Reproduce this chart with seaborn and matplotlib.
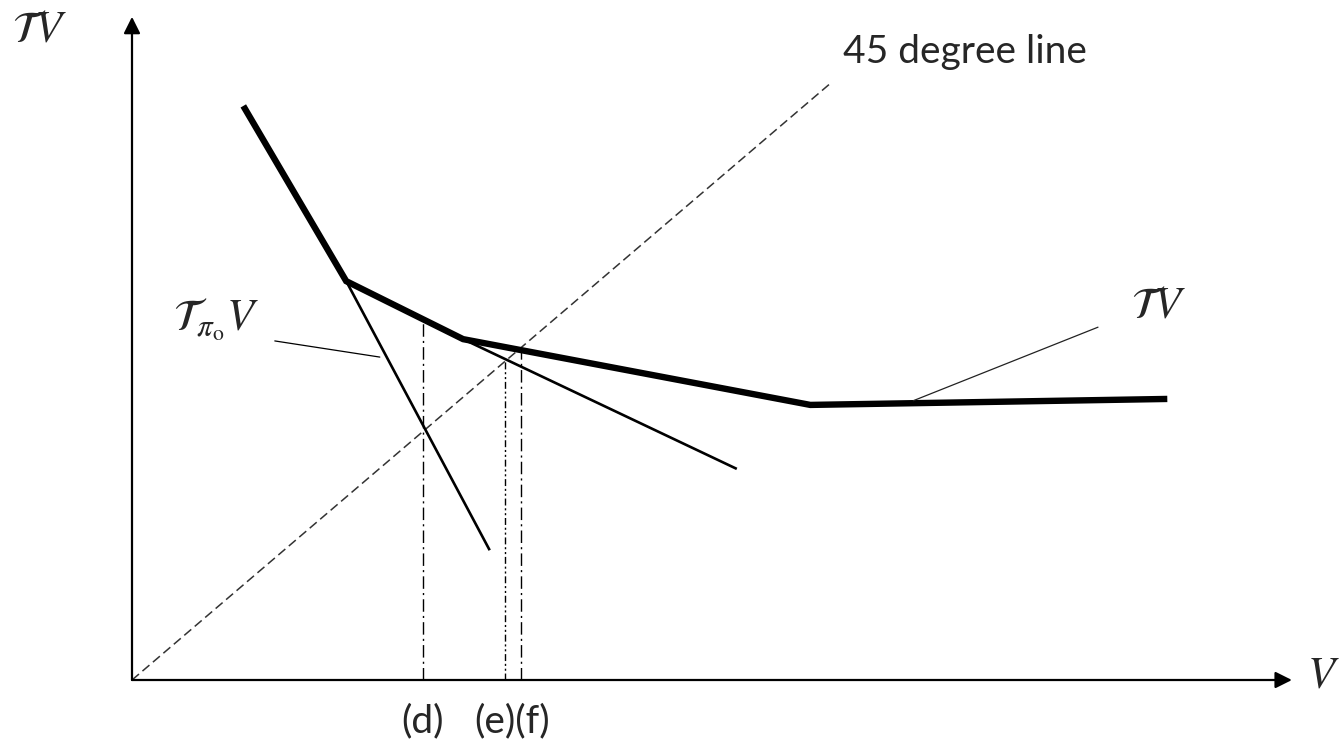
import matplotlib
matplotlib.use("Agg")
import matplotlib.pyplot as plt
import seaborn as sns
import numpy as np

# ---- data (arbitrary units; 45-degree line is y = x) ----
tv_x = [1.59, 3.06, 4.73, 9.69, 14.79]
tv_y = [9.60, 6.67, 5.70, 4.60, 4.70]

tpi0_x = [3.06, 5.11]
tpi0_y = [6.67, 2.17]

tpi1_x = [4.73, 8.64]
tpi1_y = [5.70, 3.53]

diag_x = [0.0, 10.0]
diag_y = [0.0, 10.0]

# vertical markers (d), (e), (f): x position and top height
vert_x = [4.16, 5.33, 5.56]
vert_top = [6.02, 5.35, 5.52]
vert_labels = ["(d)", "(e)(f)"]

# leader lines for labels
lead_pi0_x = [2.04, 3.54]
lead_pi0_y = [5.67, 5.40]
lead_tv_x = [13.80, 11.16]
lead_tv_y = [5.90, 4.67]

x_axis_end = 16.57
y_axis_end = 11.09

sns.set_style("white")
plt.rcParams["font.family"] = ["Lato", "DejaVu Sans"]
plt.rcParams["mathtext.fontset"] = "stix"

W, H = 1343, 745
fig = plt.figure(figsize=(W / 100, H / 100), dpi=100)
ax = fig.add_axes([0, 0, 1, 1])
ax.set_xlim(-132 / 70, (W - 132) / 70)
ax.set_ylim((680 - H) / 59.8, 680 / 59.8)
ax.axis("off")

# axes with arrows
ax.annotate("", xy=(x_axis_end, 0), xytext=(0, 0),
            arrowprops=dict(arrowstyle="-|>", mutation_scale=25, lw=1.6,
                            color="black", shrinkA=0, shrinkB=0))
ax.annotate("", xy=(0, y_axis_end), xytext=(0, 0),
            arrowprops=dict(arrowstyle="-|>", mutation_scale=25, lw=1.6,
                            color="black", shrinkA=0, shrinkB=0))

# 45-degree dashed line
sns.lineplot(x=diag_x, y=diag_y, sort=False, estimator=None, ax=ax,
             color="#333333", lw=1.1, linestyle=(0, (6, 3)))

# thin T_pi lines
sns.lineplot(x=tpi0_x, y=tpi0_y, sort=False, estimator=None, ax=ax,
             color="black", lw=1.9, solid_capstyle="butt")
sns.lineplot(x=tpi1_x, y=tpi1_y, sort=False, estimator=None, ax=ax,
             color="black", lw=1.9, solid_capstyle="butt")

# thick TV
sns.lineplot(x=tv_x, y=tv_y, sort=False, estimator=None, ax=ax,
             color="black", lw=4.6, solid_capstyle="butt",
             solid_joinstyle="miter")

# vertical dash-dot lines
styles = [(0, (9, 3, 1.5, 3)), (0, (5, 2, 1.5, 2, 1.5, 2)), (0, (9, 3, 1.5, 3))]
for vx, vt, ls in zip(vert_x, vert_top, styles):
    sns.lineplot(x=[vx, vx], y=[0, vt], sort=False, estimator=None, ax=ax,
                 color="black", lw=1.0, linestyle=ls)

# leader lines
sns.lineplot(x=lead_pi0_x, y=lead_pi0_y, sort=False, estimator=None, ax=ax,
             color="black", lw=0.9)
sns.lineplot(x=lead_tv_x, y=lead_tv_y, sort=False, estimator=None, ax=ax,
             color="#222222", lw=0.9)

if ax.get_legend() is not None:
    ax.get_legend().remove()

def ft(x, y):
    return x / W, 1 - y / H

fs_math = 32
fig.text(*ft(40, 29), r"$\mathcal{T}V$", fontsize=fs_math, ha="center", va="center")
fig.text(*ft(173, 331), r"$\mathcal{T}_{\pi_{\mathrm{o}}}V$", fontsize=fs_math,
         ha="left", va="baseline")
fig.text(*ft(1159, 305), r"$\mathcal{T}V$", fontsize=fs_math, ha="center", va="center")
fig.text(*ft(1340, 675), r"$V$", fontsize=fs_math, ha="right", va="center")

fs_txt = 28
fig.text(*ft(843, 63), "45 degree line", fontsize=fs_txt, ha="left", va="baseline")
fig.text(*ft(422, 732), vert_labels[0], fontsize=fs_txt, ha="center", va="baseline")
fig.text(*ft(512, 732), vert_labels[1], fontsize=fs_txt, ha="center", va="baseline")

fig.savefig("out.png", dpi=100)
